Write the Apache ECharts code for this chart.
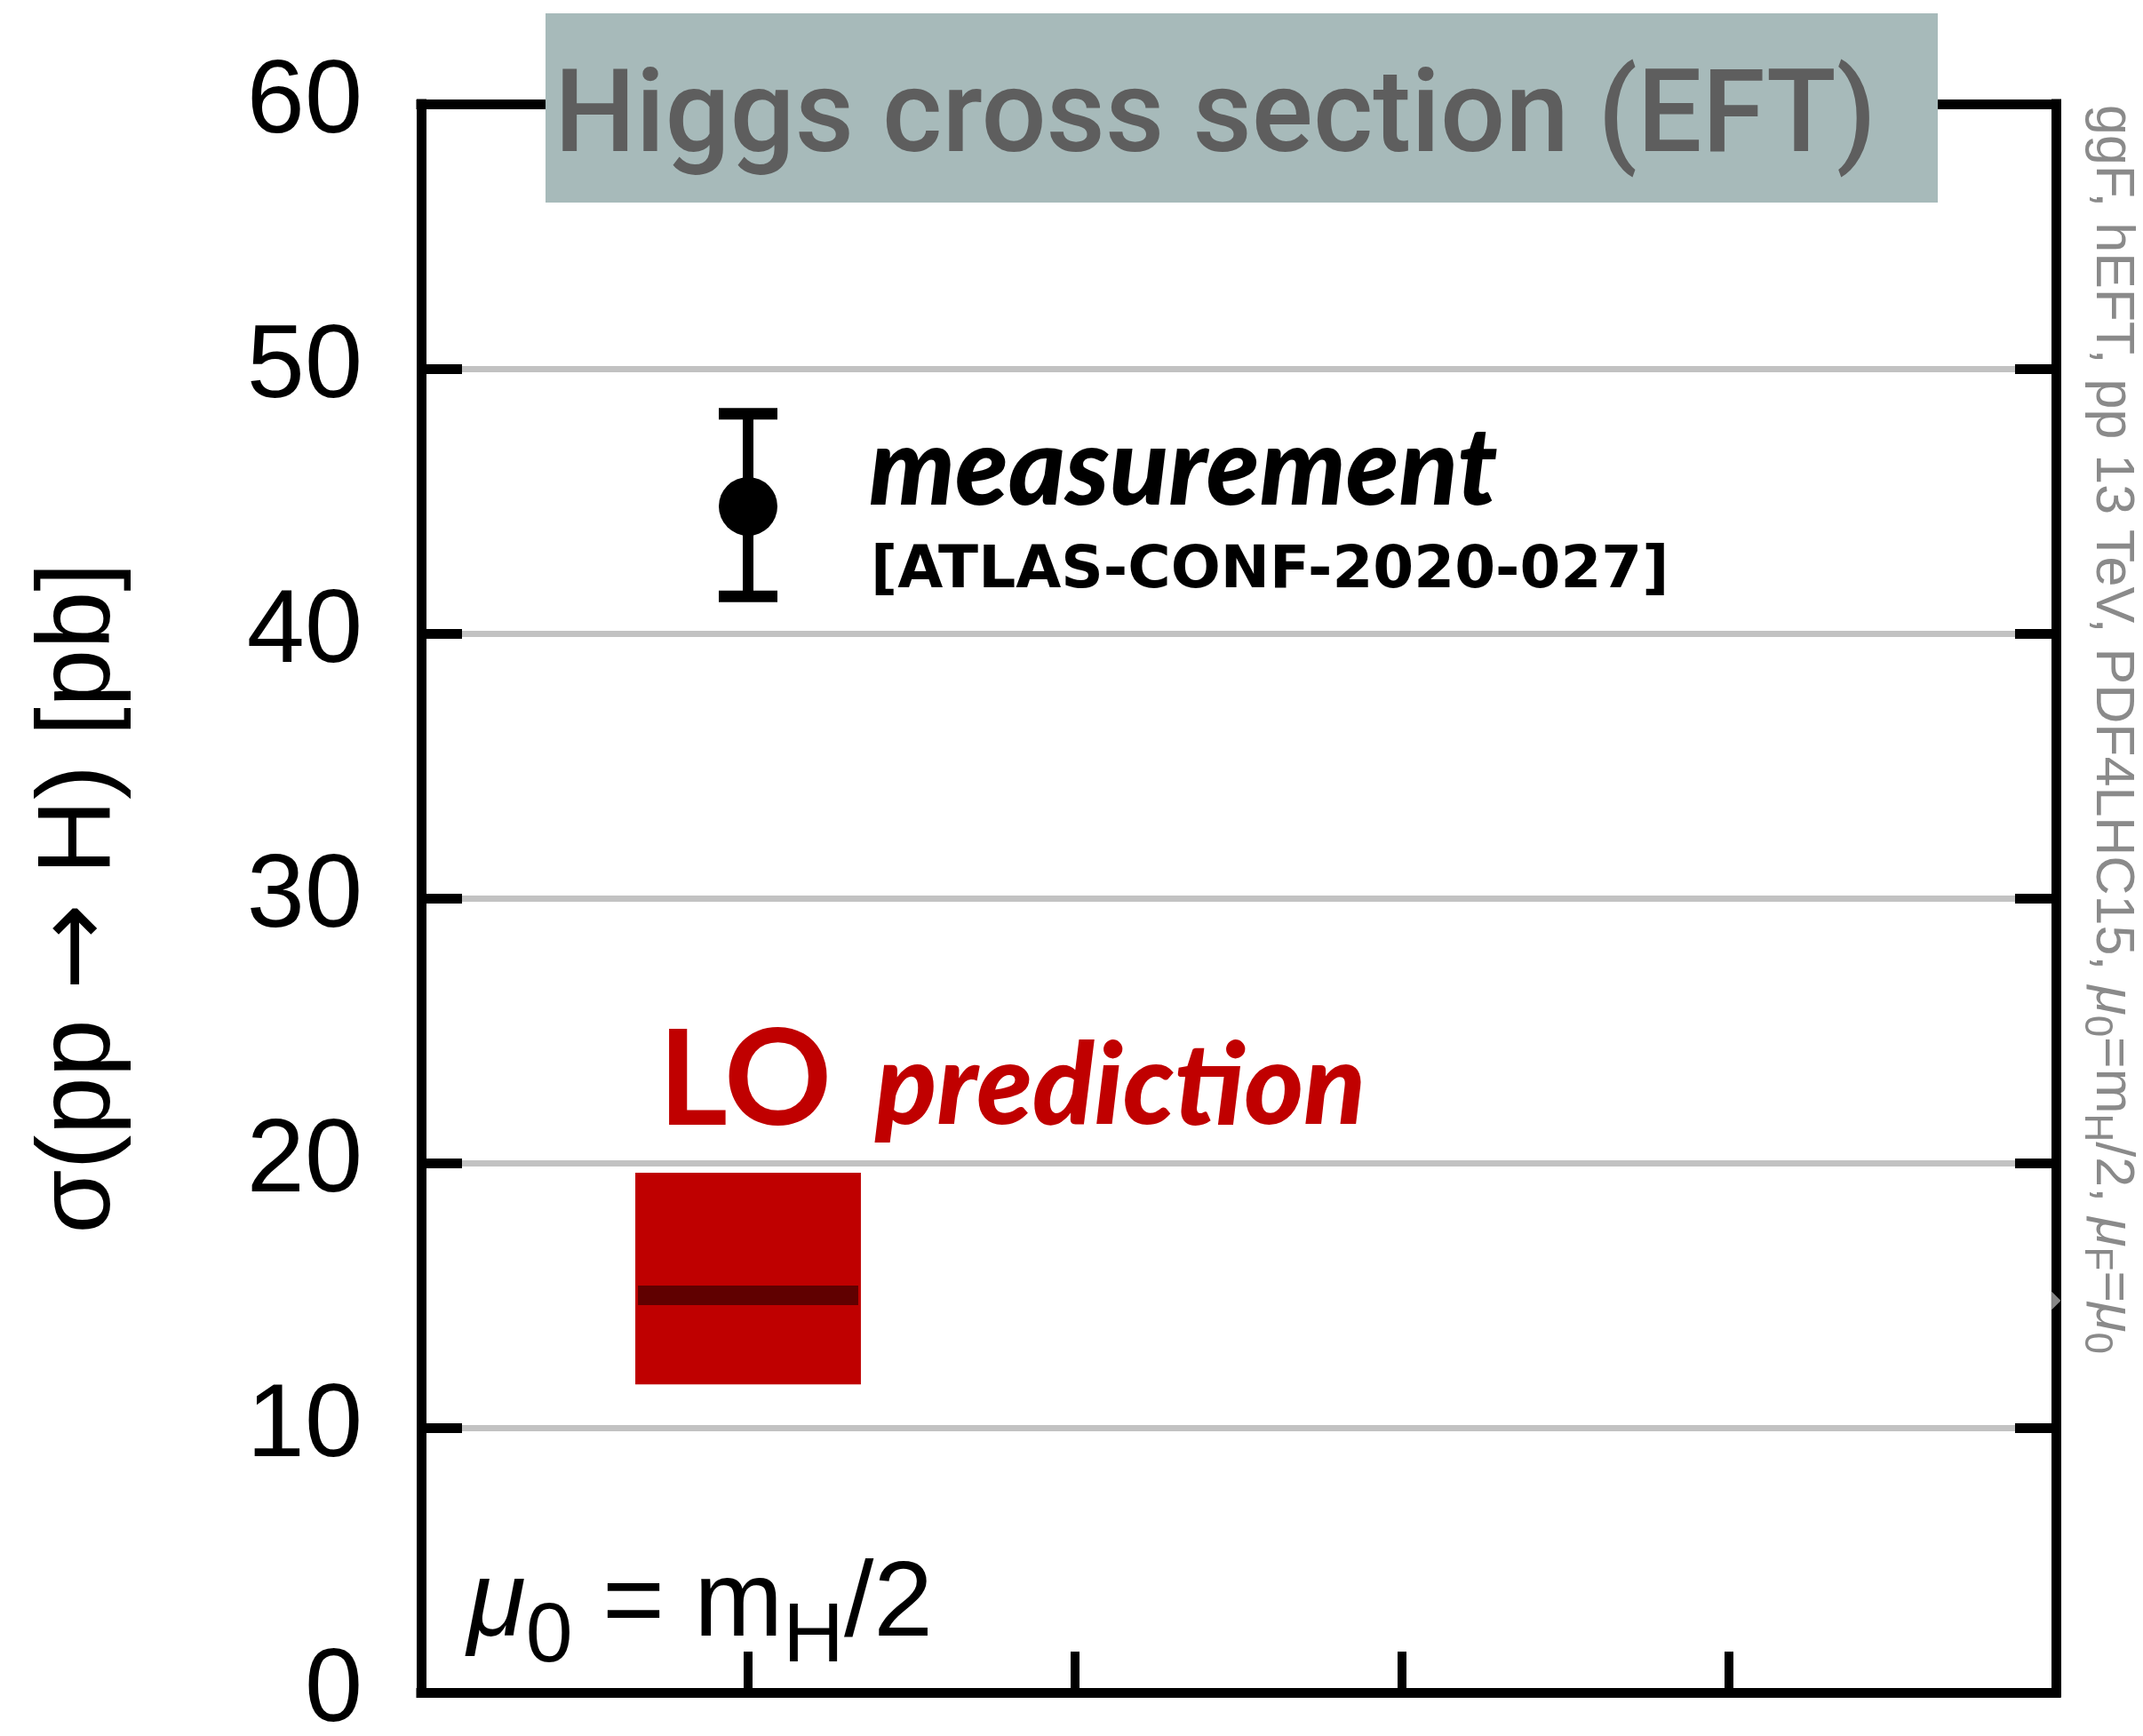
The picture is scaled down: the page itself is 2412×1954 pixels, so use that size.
<!DOCTYPE html>
<html>
<head>
<meta charset="utf-8">
<script src="https://cdn.jsdelivr.net/npm/echarts@6/dist/echarts.min.js"></script>
<style>html,body{margin:0;padding:0;background:#fff}#c{width:2412px;height:1954px}</style>
</head>
<body>
<div id="c"></div>
<script>
// ---- data ----
const yMin = 0, yMax = 60, yStep = 10;      // y tick labels 0..60
const xMin = 0, xMax = 5, xStep = 1;        // unlabeled x ticks
// measurement: [x, central, low, high]  (ATLAS-CONF-2020-027)
const measurement = [[1, 44.8, 41.4, 48.3]];
// LO prediction band: [x, central, low, high]
const loPrediction = [[1, 15.0, 11.64, 19.63]];
// grey marker on right axis: [x, value]
const sideMarker = [[5, 14.8]];

const titleText = 'Higgs cross section (EFT)';
const yName = '{a|σ(pp }{b|→}{a| H) [pb]}';

const chart = echarts.init(document.getElementById('c'), null, {renderer: 'canvas'});

const frameLine = {show: true, onZero: false, lineStyle: {color: '#000', width: 11, cap: 'square'}};
const baseY = {type: 'value', min: yMin, max: yMax, interval: yStep};
const baseX = {type: 'value', min: xMin, max: xMax, interval: xStep};

const option = {
  animation: false,
  backgroundColor: '#fff',
  grid: {left: 474, right: 98, top: 117, bottom: 49, containLabel: false, outerBoundsMode: 'none'},
  xAxis: [
    Object.assign({}, baseX, {position: 'bottom', z: 5, axisLine: frameLine,
      axisTick: {show: true, inside: true, length: 46, lineStyle: {color: '#000', width: 10}},
      axisLabel: {show: false}, splitLine: {show: false}}),
    Object.assign({}, baseX, {position: 'top', z: 5, axisLine: frameLine,
      axisTick: {show: false}, axisLabel: {show: false}, splitLine: {show: false}})
  ],
  yAxis: [
    Object.assign({}, baseY, {position: 'left', z: 5, axisLine: frameLine,
      axisTick: {show: true, inside: true, length: 46, lineStyle: {color: '#000', width: 11}},
      axisLabel: {show: true, margin: 66, fontSize: 117, fontFamily: 'Liberation Sans', color: '#000', padding: [10, 0, 0, 0]},
      splitLine: {show: false},
      name: yName, nameLocation: 'middle', nameGap: 325,
      nameTextStyle: {fontSize: 117, fontFamily: 'Liberation Sans', color: '#000',
        rich: {
          a: {fontSize: 117, fontFamily: 'Liberation Sans', color: '#000'},
          b: {fontSize: 117, fontFamily: 'DejaVu Sans', color: '#000'}
        }}}),
    Object.assign({}, baseY, {position: 'left', z: 0, axisLine: {show: false},
      axisTick: {show: false}, axisLabel: {show: false},
      splitLine: {show: true, lineStyle: {color: '#c2c2c2', width: 7}}}),
    Object.assign({}, baseY, {position: 'right', z: 5, axisLine: frameLine,
      axisTick: {show: true, inside: true, length: 46, lineStyle: {color: '#000', width: 11}},
      axisLabel: {show: false}, splitLine: {show: false}})
  ],
  series: [
    {
      type: 'custom', name: 'LO prediction', xAxisIndex: 0, yAxisIndex: 0, z: 3,
      data: loPrediction,
      renderItem: function (params, api) {
        const x = api.value(0), c = api.value(1), lo = api.value(2), hi = api.value(3);
        const hw = 0.345;
        const p1 = api.coord([x - hw, hi]);
        const p2 = api.coord([x + hw, lo]);
        const pc = api.coord([x, c]);
        const w = p2[0] - p1[0];
        return {type: 'group', children: [
          {type: 'rect', shape: {x: p1[0], y: p1[1], width: w, height: p2[1] - p1[1]}, style: {fill: '#bf0000'}},
          {type: 'rect', shape: {x: p1[0] + 3, y: pc[1] - 11, width: w - 6, height: 22}, style: {fill: '#600000'}}
        ]};
      }
    },
    {
      type: 'custom', name: 'measurement', xAxisIndex: 0, yAxisIndex: 0, z: 3,
      data: measurement,
      renderItem: function (params, api) {
        const x = api.value(0), c = api.value(1), lo = api.value(2), hi = api.value(3);
        const pc = api.coord([x, c]), pl = api.coord([x, lo]), ph = api.coord([x, hi]);
        const cap = 33;
        const st = {stroke: '#000', lineWidth: 12, fill: null};
        return {type: 'group', children: [
          {type: 'line', shape: {x1: pc[0], y1: pl[1], x2: pc[0], y2: ph[1]}, style: st},
          {type: 'line', shape: {x1: pc[0] - cap, y1: ph[1], x2: pc[0] + cap, y2: ph[1]}, style: {stroke: '#000', lineWidth: 13}},
          {type: 'line', shape: {x1: pc[0] - cap, y1: pl[1], x2: pc[0] + cap, y2: pl[1]}, style: {stroke: '#000', lineWidth: 13}},
          {type: 'circle', shape: {cx: pc[0], cy: pc[1], r: 33}, style: {fill: '#000'}}
        ]};
      }
    },
    {
      type: 'scatter', name: 'marker', xAxisIndex: 0, yAxisIndex: 0, z: 10,
      data: sideMarker, symbol: 'triangle', symbolSize: [22, 11], symbolRotate: -90,
      itemStyle: {color: '#a8a8a8'}, silent: true
    }
  ],
  graphic: [
    {type: 'rect', z: 100, shape: {x: 614, y: 15, width: 1567, height: 213}, style: {fill: '#a7baba'}},
    {type: 'text', z: 101, x: 624, y: 138,
      style: {text: titleText, fill: '#5e5e5e', fontSize: 129, fontWeight: 500, fontFamily: 'Roboto',
        align: 'left', verticalAlign: 'middle', textAlign: 'left', textVerticalAlign: 'middle'}},
    {type: 'text', z: 50, x: 978, y: 529,
      style: {text: 'measurement', fill: '#000', fontSize: 122, fontWeight: 900, fontStyle: 'italic', fontFamily: 'Lato',
        align: 'left', verticalAlign: 'middle', textAlign: 'left', textVerticalAlign: 'middle'}},
    {type: 'text', z: 50, x: 980, y: 644,
      style: {text: '[ATLAS-CONF-2020-027]', fill: '#000', fontSize: 66, fontWeight: 'bold', fontFamily: 'DejaVu Sans',
        align: 'left', verticalAlign: 'middle', textAlign: 'left', textVerticalAlign: 'middle'}},
    {type: 'text', z: 50, x: 741, y: 1218,
      style: {text: 'LO', fill: '#c00000', fontSize: 150, fontWeight: 'bold', fontFamily: 'Lato',
        align: 'left', verticalAlign: 'middle', textAlign: 'left', textVerticalAlign: 'middle'}},
    {type: 'text', z: 50, x: 985, y: 1224,
      style: {text: 'prediction', fill: '#c00000', fontSize: 128, fontWeight: 900, fontStyle: 'italic', fontFamily: 'Lato',
        align: 'left', verticalAlign: 'middle', textAlign: 'left', textVerticalAlign: 'middle'}},
    {type: 'text', z: 50, x: 526, y: 1725,
      style: {text: '{mu|μ}{sub|0}{n| = m}{sub|H}{n|/2}', fill: '#000', fontSize: 120, fontFamily: 'Liberation Sans',
        align: 'left', verticalAlign: 'top', textAlign: 'left', textVerticalAlign: 'top',
        rich: {
          mu: {fontSize: 120, fontStyle: 'italic', fontFamily: 'Liberation Sans', lineHeight: 166, fill: '#000'},
          n: {fontSize: 120, fontFamily: 'Liberation Sans', lineHeight: 166, fill: '#000'},
          sub: {fontSize: 95, fontFamily: 'Liberation Sans', verticalAlign: 'bottom', fill: '#000'}
        }}},
    {type: 'text', z: 50, x: 2417, y: 118, rotation: -Math.PI / 2,
      style: {text: '{n|ggF, hEFT, pp 13 TeV, PDF4LHC15, }{mu|μ}{s|0}{n|=m}{s|H}{n|/2, }{mu|μ}{s|F}{n|=}{mu|μ}{s|0}',
        fill: '#8a8a8a', fontSize: 61, fontFamily: 'Liberation Sans',
        align: 'left', verticalAlign: 'top', textAlign: 'left', textVerticalAlign: 'top',
        rich: {
          n: {fontSize: 61, fontFamily: 'Liberation Sans', lineHeight: 80, fill: '#8a8a8a'},
          mu: {fontSize: 61, fontStyle: 'italic', fontFamily: 'Liberation Sans', lineHeight: 80, fill: '#8a8a8a'},
          s: {fontSize: 44, fontFamily: 'Liberation Sans', verticalAlign: 'bottom', fill: '#8a8a8a'}
        }}}
  ]
};
chart.setOption(option);
</script>
</body>
</html>
